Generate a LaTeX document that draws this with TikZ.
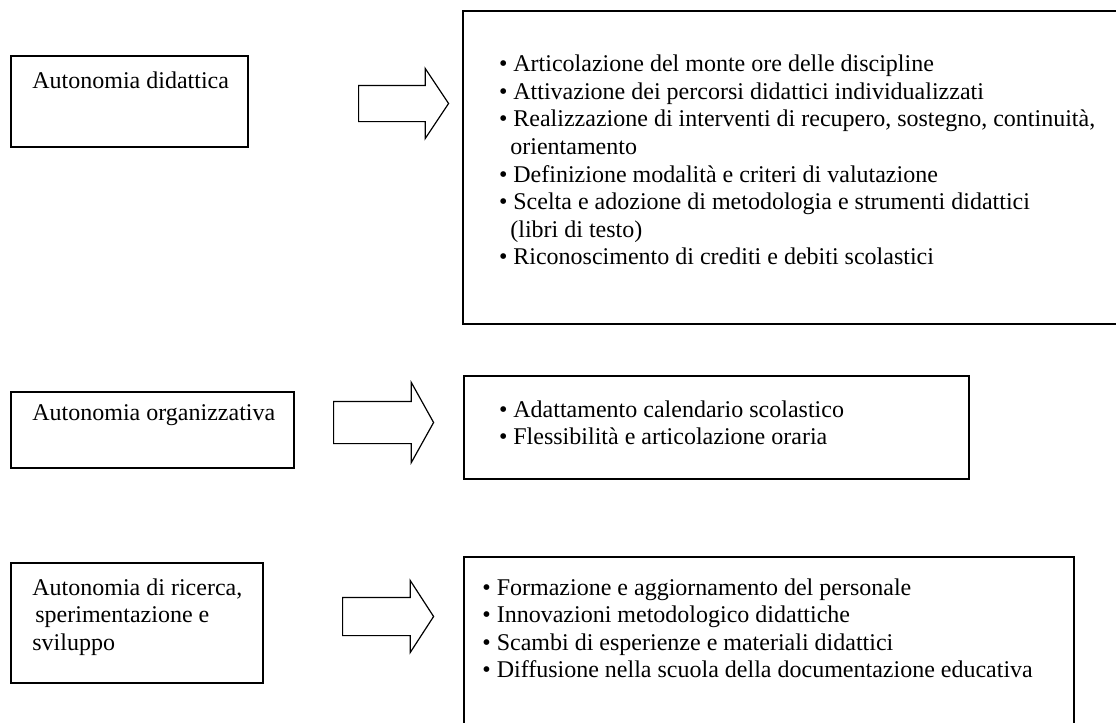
\documentclass[tikz,border=0pt]{standalone}
\usepackage{fontspec}
\setmainfont{Liberation Serif}
\usetikzlibrary{shapes.arrows}

\newcommand{\itm}{\textbullet\ }
\newcommand{\lines}[1]{\begin{tabular}[t]{@{}l@{}}#1\end{tabular}}

\begin{document}
\begin{tikzpicture}[x=0.5pt, y=-0.5pt,
  every node/.style={font=\fontsize{12}{13.8}\selectfont},
  unit/.style={draw, line width=0.8pt, anchor=north west, inner sep=0pt},
  txt/.style={anchor=base west, inner sep=0pt},
  blockarrow/.style={draw, line width=0.6pt, single arrow, anchor=tail, inner xsep=0pt}]
  \useasboundingbox (0,0) rectangle (1116,723);

  % areas of autonomy
  \node[unit, minimum width=118.5pt, minimum height=45.5pt] (did) at (10,55) {};
  \node[unit, minimum width=141.5pt, minimum height=38pt] (org) at (10,391) {};
  \node[unit, minimum width=126pt, minimum height=60pt] (ric) at (10,562) {};
  \node[txt] (didtxt) at (32,88.3) {Autonomia didattica};
  \node[txt] (orgtxt) at (32,420) {Autonomia organizzativa};
  \node[txt] (rictxt) at (32,595)
    {\lines{Autonomia di ricerca,\\\hspace*{1.5pt}sperimentazione e\\sviluppo}};

  % block arrows
  \node[blockarrow, minimum height=45pt, inner ysep=8.75pt,
    single arrow head extend=8.5pt, single arrow tip angle=112.6] (didarr) at (358,103.5) {};
  \node[blockarrow, minimum height=50pt, inner ysep=10.25pt,
    single arrow head extend=9.5pt, single arrow tip angle=121.8] (orgarr) at (333,422.5) {};
  \node[blockarrow, minimum height=45.5pt, inner ysep=9.25pt,
    single arrow head extend=8.5pt, single arrow tip angle=114] (ricarr) at (342,616.5) {};

  % contents
  \node[unit, minimum width=340pt, minimum height=156.5pt] (didbox) at (462,10) {};
  \node[unit, minimum width=252.5pt, minimum height=51.5pt] (orgbox) at (463,375) {};
  \node[unit, minimum width=305pt, minimum height=92pt] (ricbox) at (463,556) {};

  \node[txt] (didlist) at (498.6,71.7) {\lines{%
    \itm Articolazione del monte ore delle discipline\\
    \itm Attivazione dei percorsi didattici individualizzati\\
    \itm Realizzazione di interventi di recupero, sostegno, continuità,\\
    \hspace*{5.7pt}orientamento\\
    \itm Definizione modalità e criteri di valutazione\\
    \itm Scelta e adozione di metodologia e strumenti didattici\\
    \hspace*{5.7pt}(libri di testo)\\
    \itm Riconoscimento di crediti e debiti scolastici}};
  \node[txt] (orglist) at (498.6,417) {\lines{%
    \itm Adattamento calendario scolastico\\
    \itm Flessibilità e articolazione oraria}};
  \node[txt] (riclist) at (482,595) {\lines{%
    \itm Formazione e aggiornamento del personale\\
    \itm Innovazioni metodologico didattiche\\
    \itm Scambi di esperienze e materiali didattici\\
    \itm Diffusione nella scuola della documentazione educativa}};
\end{tikzpicture}
\end{document}
